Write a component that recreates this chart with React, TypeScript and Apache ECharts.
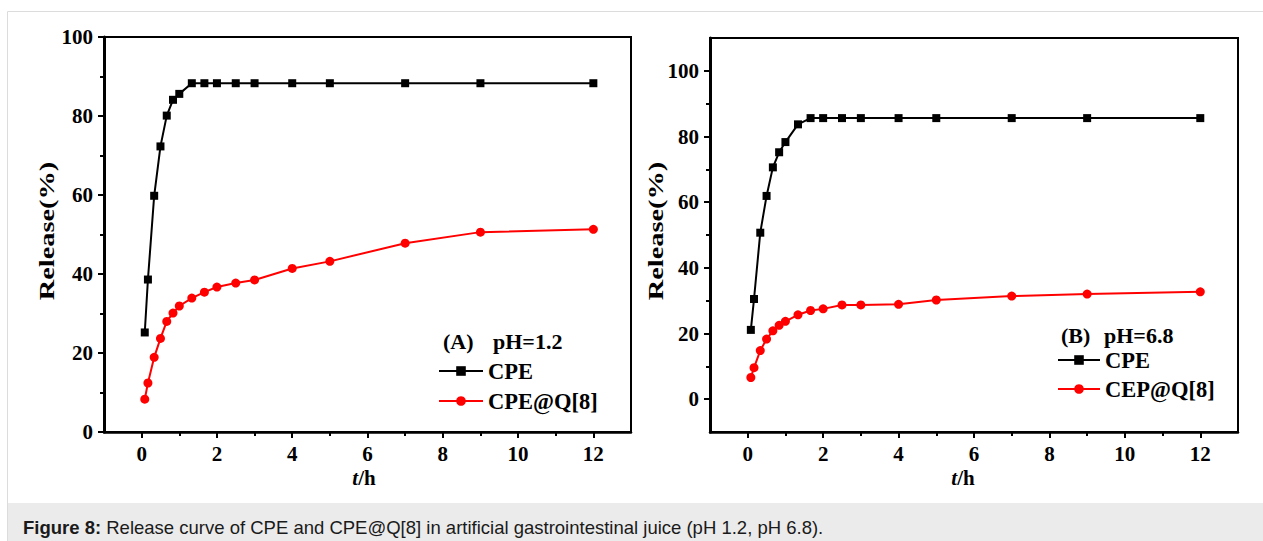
import React, { useEffect, useRef } from "react";
import * as echarts from "echarts";

// time points (h)
const timeH = [0.083, 0.167, 0.333, 0.5, 0.667, 0.833, 1, 1.333, 1.667, 2, 2.5, 3, 4, 5, 7, 9, 12];
// (A) pH 1.2
const cpeA = [25.2, 38.6, 59.8, 72.3, 80.1, 84.1, 85.6, 88.3, 88.3, 88.3, 88.3, 88.3, 88.3, 88.3, 88.3, 88.3, 88.3];
const cpeQA = [8.3, 12.4, 18.9, 23.7, 28.0, 30.1, 31.9, 33.9, 35.4, 36.7, 37.7, 38.5, 41.4, 43.2, 47.8, 50.6, 51.3];
// (B) pH 6.8
const cpeB = [21.1, 30.5, 50.7, 61.9, 70.6, 75.2, 78.3, 83.7, 85.6, 85.6, 85.6, 85.6, 85.6, 85.6, 85.6, 85.6, 85.6];
const cepQB = [6.6, 9.6, 14.8, 18.3, 20.8, 22.5, 23.7, 25.7, 27.0, 27.5, 28.7, 28.7, 28.9, 30.2, 31.4, 32.0, 32.7];

const xMajor = [0, 2, 4, 6, 8, 10, 12];
const xMinor = [1, 3, 5, 7, 9, 11];
const yMajor = [0, 20, 40, 60, 80, 100];
const yMinor = [10, 30, 50, 70, 90];

const SERIF = '"Liberation Serif", "Times New Roman", serif';
const SANS = '"Liberation Sans", Arial, Helvetica, sans-serif';

const zip = (xs: number[], ys: number[]) => xs.map((x, i) => [x, ys[i]]);

function xAxes(grid: number) {
  return [
    {
      type: "value", gridIndex: grid, min: -1, max: 13, position: "bottom",
      axisLine: { show: true, onZero: false, lineStyle: { color: "#000", width: 2.5 } },
      axisTick: { show: true, customValues: xMajor, length: 6, lineStyle: { color: "#000", width: 2 } },
      axisLabel: { customValues: xMajor, color: "#000", fontFamily: SERIF, fontWeight: "bold", fontSize: 21, margin: 11 },
      splitLine: { show: false },
    },
    {
      type: "value", gridIndex: grid, min: -1, max: 13, position: "bottom",
      axisLine: { show: false, onZero: false },
      axisTick: { show: true, customValues: xMinor, length: 4, lineStyle: { color: "#000", width: 2 } },
      axisLabel: { show: false },
      splitLine: { show: false },
    },
  ];
}

function yAxes(grid: number, min: number, max: number) {
  return [
    {
      type: "value", gridIndex: grid, min, max, position: "left",
      axisLine: { show: true, onZero: false, lineStyle: { color: "#000", width: 3 } },
      axisTick: { show: true, customValues: yMajor, length: 6, lineStyle: { color: "#000", width: 2 } },
      axisLabel: { customValues: yMajor, color: "#000", fontFamily: SERIF, fontWeight: "bold", fontSize: 21, margin: 11 },
      splitLine: { show: false },
    },
    {
      type: "value", gridIndex: grid, min, max, position: "left",
      axisLine: { show: false, onZero: false },
      axisTick: { show: true, customValues: yMinor, length: 4, lineStyle: { color: "#000", width: 2 } },
      axisLabel: { show: false },
      splitLine: { show: false },
    },
  ];
}

function lineSeries(name: string, data: number[][], xi: number, yi: number, color: string, symbol: string) {
  return {
    type: "line", name, data, xAxisIndex: xi, yAxisIndex: yi,
    symbol, symbolSize: symbol === "rect" ? 8 : 9, showSymbol: true,
    lineStyle: { color, width: 2 }, itemStyle: { color },
  };
}

function axisName(x: number, y: number) {
  return {
    type: "text", x, y, rotation: Math.PI / 2, scaleX: 1.35,
    style: { text: "Release(%)", fontFamily: SERIF, fontWeight: "bold", fontSize: 21, fill: "#000", align: "center", verticalAlign: "middle" },
  };
}

function timeName(x: number, y: number) {
  return {
    type: "text", x, y,
    style: {
      text: "{i|t}{b|/h}", align: "center", verticalAlign: "middle",
      rich: {
        i: { fontFamily: SERIF, fontWeight: "bold", fontStyle: "italic", fontSize: 21, fill: "#000" },
        b: { fontFamily: SERIF, fontWeight: "bold", fontSize: 21, fill: "#000" },
      },
    },
  };
}

function plainText(text: string, x: number, y: number) {
  return { type: "text", x, y, style: { text, fontFamily: SERIF, fontWeight: "bold", fontSize: 22, fill: "#000", verticalAlign: "middle" } };
}

export default function App() {
  const ref = useRef<HTMLDivElement>(null);
  useEffect(() => {
    if (!ref.current) return;
    const chart = echarts.init(ref.current, undefined, { renderer: "svg" });
    const legendText = { color: "#000", fontFamily: SERIF, fontWeight: "bold", fontSize: 22.5, lineHeight: 30 };
    chart.setOption({
      animation: false,
      backgroundColor: "#fff",
      grid: [
        { left: 104, top: 37, width: 527, height: 395, show: true, borderColor: "#000", borderWidth: 2, backgroundColor: "transparent" },
        { left: 710, top: 38, width: 528, height: 394, show: true, borderColor: "#000", borderWidth: 2, backgroundColor: "transparent" },
      ],
      xAxis: [...xAxes(0), ...xAxes(1)],
      yAxis: [...yAxes(0, 0, 100), ...yAxes(1, -10, 110)],
      legend: [
        {
          data: ["CPE", "CPE@Q[8]"], orient: "vertical", left: 438, top: 356, padding: 0,
          itemWidth: 44, itemHeight: 12, itemGap: 0, textStyle: legendText, selectedMode: false,
        },
        {
          data: ["CPE", "CEP@Q[8]"], orient: "vertical", left: 1057, top: 345, padding: 0,
          itemWidth: 42, itemHeight: 12, itemGap: -1, textStyle: legendText, selectedMode: false,
        },
      ],
      series: [
        lineSeries("CPE", zip(timeH, cpeA), 0, 0, "#000", "rect"),
        lineSeries("CPE@Q[8]", zip(timeH, cpeQA), 0, 0, "#ff0000", "circle"),
        lineSeries("CPE", zip(timeH, cpeB), 2, 2, "#000", "rect"),
        lineSeries("CEP@Q[8]", zip(timeH, cepQB), 2, 2, "#ff0000", "circle"),
      ],
      graphic: [
        { type: "rect", silent: true, z: -10, shape: { x: 7.5, y: 11.5, width: 1300, height: 600 }, style: { fill: "#fff", stroke: "#dcdcdc", lineWidth: 1 } },
        { type: "rect", silent: true, z: -9, shape: { x: 8, y: 503, width: 1255, height: 38 }, style: { fill: "#ebebeb" } },
        {
          type: "text", x: 23, y: 527,
          style: {
            text: "{b|Figure 8:} Release curve of CPE and CPE@Q[8] in artificial gastrointestinal juice (pH 1.2, pH 6.8).",
            fontFamily: SANS, fontSize: 18.5, fill: "#1a1a1a", verticalAlign: "middle",
            rich: { b: { fontFamily: SANS, fontSize: 18.5, fontWeight: "bold", fill: "#1a1a1a" } },
          },
        },
        plainText("(A)", 443, 341.5),
        plainText("pH=1.2", 493, 341.5),
        plainText("(B)", 1061, 335),
        plainText("pH=6.8", 1104, 335),
        axisName(47, 231),
        axisName(656, 231),
        timeName(364, 478),
        timeName(963, 478),
      ],
    });
    return () => chart.dispose();
  }, []);
  return <div ref={ref} style={{ position: "absolute", left: 0, top: 0, width: 1263, height: 541 }} />;
}
